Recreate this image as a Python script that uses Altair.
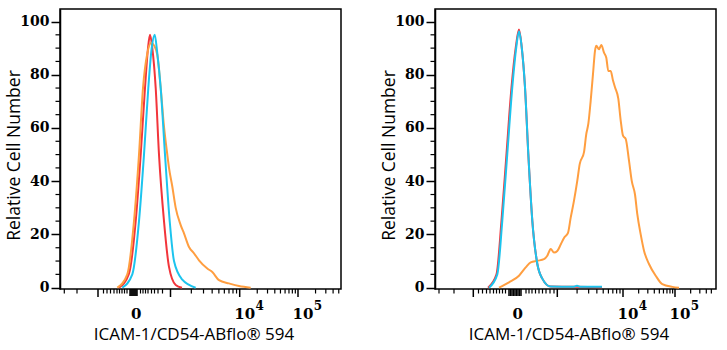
import math
import altair as alt
import pandas as pd

# ---------------- data (x = position along the biexponential display axis, y = relative cell number)
# Left panel
L_red_x = [59, 69, 75.7, 80.7, 85, 88, 90, 92.3, 95.7, 99, 104, 109, 115.7, 122]
L_red_y = [0, 5.3, 25, 50, 75, 90, 95, 90, 75, 50, 25, 7.8, 1, 0]
L_blue_x = [62.3, 72.3, 79, 84, 88.3, 91.7, 94.7, 97.3, 100.7, 105, 109.7, 114, 122.3, 135.7]
L_blue_y = [0, 5, 25, 50, 75, 90, 95, 88, 75, 50, 25, 10, 3, 0]
L_orange_x = [57.3, 67.3, 74, 79, 83, 87.3, 91.3, 94, 97.3, 100.7, 104, 107.3, 109, 112.3, 115.7,
              120.7, 124, 129, 134, 139, 147.3, 152.3, 159, 169, 179, 190.7]
L_orange_y = [0, 5, 25, 50, 75, 88, 92, 91, 87.5, 75, 60.5, 50, 45, 38, 30,
              23.5, 20.4, 15.3, 12.9, 10.3, 7.2, 5.9, 2.8, 1.6, 0.6, 0]

# Right panel
R_red_x = [53, 61.5, 66.5, 71.5, 76.5, 80.8, 84, 86.7, 90, 93.3, 97.3, 102.3, 107.3, 115.7, 140, 167]
R_red_y = [0, 5, 25.2, 50.3, 75.3, 90.4, 97, 90.4, 75.3, 50.3, 25.2, 9, 3.4, 0.4, 0.3, 0.2]
R_blue_x = [54, 62.3, 67.3, 72.3, 77.3, 81.3, 84, 86.7, 90, 93.3, 97.3, 102.3, 107.3, 115.7, 138, 142, 146, 167]
R_blue_y = [0, 5, 25.2, 50.3, 75.3, 90.4, 96.3, 90.4, 75.3, 50.3, 25.2, 9, 3.4, 0.4, 0.3, 0.7, 0.3, 0.3]
R_orange_x = [64, 74, 84, 90.7, 95.7, 102.3, 109, 112.3, 115.7, 119, 122.3, 125.7, 129, 133, 135.7,
              139, 142.3, 144.7, 149, 151.3, 153.3, 155.7, 158, 160, 161.3, 164, 166.3, 169, 171.3,
              173.3, 175.7, 178, 180, 183.3, 185.7, 188, 190.7, 194, 196.7, 200, 202.3, 205.7, 209,
              214, 220.7, 227.3, 237.3, 244]
R_orange_y = [0, 2, 4.5, 7.6, 9.5, 10.1, 10.7, 12, 14.5, 13.2, 13.8, 16.2, 18.7, 20.6, 26.3,
              32.7, 40.2, 46.4, 50.9, 57.8, 61.5, 70.3, 80.3, 89, 90.9, 89.6, 91.2, 88.3, 86.4,
              81.4, 81.4, 77.8, 75.3, 71, 62.8, 57.1, 55.9, 47.7, 40.2, 35, 27.6, 20, 13.9,
              8.9, 4.5, 1.3, 0.3, 0]

# axis decorations (positions along the display axis)
L_major = [38, 110.5, 179.7, 238]          # -10^3, 10^3, 10^4, 10^5
R_major = [38.3, 122.3, 188, 240]
L_minor_lin = [4.3, 17, 43.5, 47, 50.5, 54, 57, 59.5, 62, 64.5, 67,
               80.5, 83, 85.5, 88, 91.5, 94.5, 98, 102.5]
R_minor_lin = [4, 19, 43.5, 47.5, 51.5, 55, 58.5, 61.5, 64.5, 67.5, 70.5,
               91, 94, 97, 100.5, 104, 107.5, 111, 115, 119]
L_zero_cluster = [70, 71, 72, 73, 74, 75, 76, 77]
R_zero_cluster = [74, 75.5, 77, 78.5, 80, 81.5, 83, 84.5, 86]
L_zero_label = 76.2
R_zero_label = 82.8
L_pow_pos = [179.7, 238]
R_pow_pos = [188, 240]
POW_BASE = ["10", "10"]
POW_EXP = ["4", "5"]
Y_LABELS = [0, 20, 40, 60, 80, 100]
Y_MINOR = [5, 10, 15, 25, 30, 35, 45, 50, 55, 65, 70, 75, 85, 90, 95]

X_TITLE = "ICAM-1/CD54-ABflo® 594"
Y_TITLE = "Relative Cell Number"

COLORS = {"red": "#F2353B", "orange": "#FF9E40", "blue": "#1CC4EE"}

W, H = 281, 280
xscale = alt.Scale(domain=[0, W], nice=False, zero=False)
yscale = alt.Scale(domain=[-0.5, 104.7], nice=False, zero=False)


def log_minors(major, width):
    out = []
    for a, b in zip(major[1:-1], major[2:]):
        for k in range(2, 10):
            out.append(a + (b - a) * math.log10(k))
    dec = major[-1] - major[-2]
    for k in range(2, 10):
        p = major[-1] + dec * math.log10(k)
        if p < width - 1:
            out.append(p)
    return out


def panel(series, major, minor_lin, cluster, zero_lab, pow_pos):
    layers = []
    first = True
    for name in ["red", "orange", "blue"]:
        xs, ys = series[name]
        df = pd.DataFrame({"pos": xs, "count": ys})
        yax = alt.Axis(values=Y_LABELS, title=Y_TITLE, grid=False,
                       labelFont="DejaVu Serif", labelFontWeight="bold", labelFontSize=14,
                       labelColor="black", labelPadding=2, tickSize=9, tickColor="black",
                       tickWidth=1.5, domainColor="black", domainWidth=1.5,
                       titleFont="Open Sans", titleFontSize=17.5, titleFontWeight="normal",
                       titleColor="black", titleAngle=270, titleX=-46, titleY=146,
                       titleAlign="center", titleBaseline="middle") if first else None
        enc_y = alt.Y("count:Q", scale=yscale, axis=yax) if first else alt.Y("count:Q", scale=yscale)
        layers.append(
            alt.Chart(df).mark_line(color=COLORS[name], strokeWidth=2, interpolate="monotone").encode(
                x=alt.X("pos:Q", scale=xscale, axis=None), y=enc_y)
        )
        first = False

    ymin = pd.DataFrame({"v": Y_MINOR})
    layers.append(alt.Chart(ymin).mark_rule(color="black", strokeWidth=1.2).encode(
        y=alt.Y("v:Q", scale=yscale), x=alt.value(-4.5), x2=alt.value(0)))

    minors = minor_lin + log_minors(major, W)
    for vals, length, sw in [(major, 8, 1.5), (minors, 4.5, 1.2), (cluster, 7, 1.5)]:
        d = pd.DataFrame({"pos": vals})
        layers.append(alt.Chart(d).mark_rule(color="black", strokeWidth=sw).encode(
            x=alt.X("pos:Q", scale=xscale, axis=None), y=alt.value(H), y2=alt.value(H + length)))

    zl = pd.DataFrame({"pos": [zero_lab], "t": ["0"]})
    layers.append(alt.Chart(zl).mark_text(font="DejaVu Serif", fontWeight="bold", fontSize=15,
                                          baseline="alphabetic", align="center", color="black").encode(
        x=alt.X("pos:Q", scale=xscale, axis=None), y=alt.value(310), text="t:N"))
    pw = pd.DataFrame({"pos": pow_pos, "b": POW_BASE, "e": POW_EXP})
    layers.append(alt.Chart(pw).mark_text(font="DejaVu Serif", fontWeight="bold", fontSize=15,
                                          baseline="alphabetic", align="center", color="black", dx=5).encode(
        x=alt.X("pos:Q", scale=xscale, axis=None), y=alt.value(310), text="b:N"))
    layers.append(alt.Chart(pw).mark_text(font="DejaVu Serif", fontWeight="bold", fontSize=12,
                                          baseline="alphabetic", align="center", color="black", dx=20).encode(
        x=alt.X("pos:Q", scale=xscale, axis=None), y=alt.value(301), text="e:N"))
    tt = pd.DataFrame({"t": [X_TITLE]})
    layers.append(alt.Chart(tt).mark_text(font="Open Sans", fontSize=17, baseline="alphabetic",
                                          align="center", color="black").encode(
        x=alt.value(134), y=alt.value(331), text="t:N"))

    return alt.layer(*layers).properties(width=W, height=H)


left = panel({"red": (L_red_x, L_red_y), "orange": (L_orange_x, L_orange_y), "blue": (L_blue_x, L_blue_y)},
             L_major, L_minor_lin, L_zero_cluster, L_zero_label, L_pow_pos)
right = panel({"red": (R_red_x, R_red_y), "orange": (R_orange_x, R_orange_y), "blue": (R_blue_x, R_blue_y)},
              R_major, R_minor_lin, R_zero_cluster, R_zero_label, R_pow_pos)

chart = alt.hconcat(left, right, spacing=94, bounds="flush").properties(
    padding={"left": 4, "top": 8, "right": 5, "bottom": 2}, background="white"
).configure_view(stroke="black", strokeWidth=1.5)

chart.save("out.html", embed_options={"renderer": "svg", "actions": False})
